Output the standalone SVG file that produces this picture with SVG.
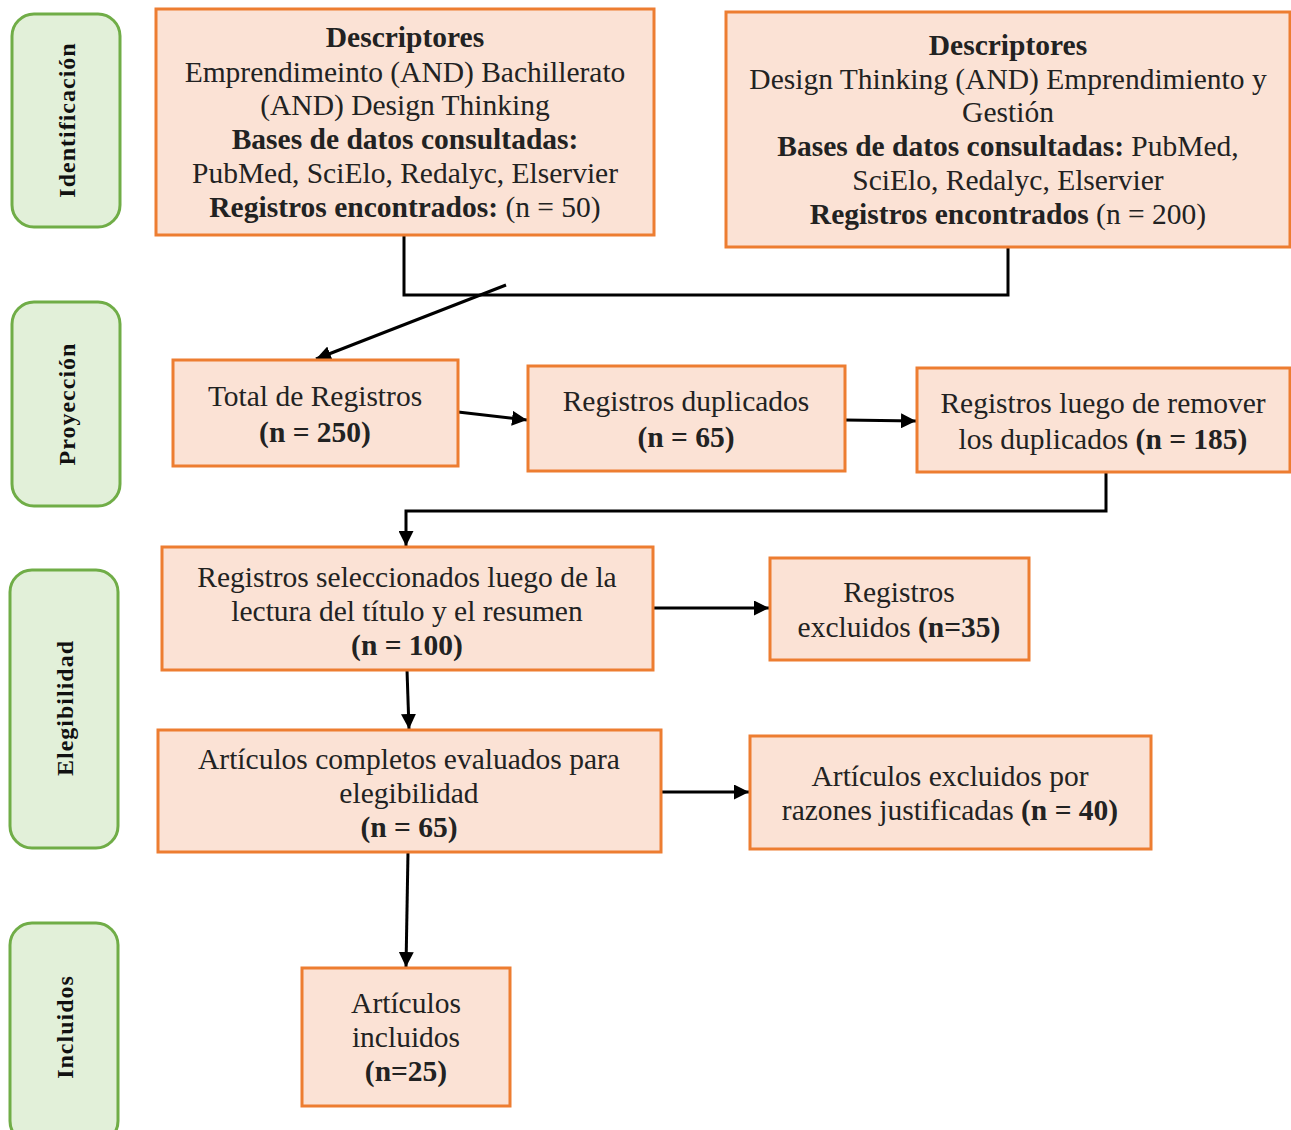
<svg xmlns="http://www.w3.org/2000/svg" width="1291" height="1130" viewBox="0 0 1291 1130">
<defs>
<marker id="ah" viewBox="0 0 10 10" refX="10" refY="5" markerWidth="5" markerHeight="5" orient="auto" markerUnits="strokeWidth">
<path d="M0,0 L10,5 L0,10 z" fill="#000"/>
</marker>
<style>
.stage rect{fill:#E2F0D9;stroke:#70AD47;stroke-width:3}
.stage text{font-family:"Liberation Serif",serif;font-weight:bold;font-size:24px;letter-spacing:1px;fill:#111;text-anchor:middle}
.box rect{fill:#FBE2D5;stroke:#ED7D31;stroke-width:3}
.box text{font-family:"Liberation Serif",serif;font-size:29.5px;fill:#222;text-anchor:middle}
.b{font-weight:bold}
.conn{fill:none;stroke:#000;stroke-width:3}
</style>
</defs>
<rect width="1291" height="1130" fill="#fff"/>

<g id="stage-identificacion" class="stage">
<rect x="12" y="14" width="108" height="213" rx="22"/>
<text transform="translate(75,120) rotate(-90)">Identificación</text>
</g>
<g id="stage-proyeccion" class="stage">
<rect x="12" y="302" width="108" height="204" rx="22"/>
<text transform="translate(75,404) rotate(-90)">Proyección</text>
</g>
<g id="stage-elegibilidad" class="stage">
<rect x="10" y="570" width="108" height="278" rx="22"/>
<text transform="translate(73,708) rotate(-90)">Elegibilidad</text>
</g>
<g id="stage-incluidos" class="stage">
<rect x="10" y="923" width="108" height="220" rx="22"/>
<text transform="translate(73,1027) rotate(-90)">Incluidos</text>
</g>

<g id="connectors">
<polyline class="conn" points="404,235 404,295 1008,295 1008,247"/>
<line class="conn" x1="506" y1="285" x2="316" y2="359" marker-end="url(#ah)"/>
<line class="conn" x1="458" y1="412" x2="527" y2="420" marker-end="url(#ah)"/>
<line class="conn" x1="845" y1="420" x2="916" y2="421" marker-end="url(#ah)"/>
<polyline class="conn" points="1106,472 1106,511 406,511 406,546" marker-end="url(#ah)"/>
<line class="conn" x1="653" y1="608" x2="769" y2="608" marker-end="url(#ah)"/>
<line class="conn" x1="407" y1="670" x2="409" y2="729" marker-end="url(#ah)"/>
<line class="conn" x1="661" y1="792" x2="749" y2="792" marker-end="url(#ah)"/>
<line class="conn" x1="408" y1="852" x2="406" y2="967" marker-end="url(#ah)"/>
</g>

<g id="desc1" class="box">
<rect x="156" y="9" width="498" height="226"/>
<text x="405" y="47" class="b">Descriptores</text>
<text x="405" y="82">Emprendimeinto (AND) Bachillerato</text>
<text x="405" y="115">(AND) Design Thinking</text>
<text x="405" y="149" class="b">Bases de datos consultadas:</text>
<text x="405" y="183">PubMed, SciElo, Redalyc, Elservier</text>
<text x="405" y="217"><tspan class="b">Registros encontrados:</tspan> (n = 50)</text>
</g>

<g id="desc2" class="box">
<rect x="726" y="12" width="564" height="235"/>
<text x="1008" y="55" class="b">Descriptores</text>
<text x="1008" y="89">Design Thinking (AND) Emprendimiento y</text>
<text x="1008" y="122">Gestión</text>
<text x="1008" y="156"><tspan class="b">Bases de datos consultadas:</tspan> PubMed,</text>
<text x="1008" y="190">SciElo, Redalyc, Elservier</text>
<text x="1008" y="224"><tspan class="b">Registros encontrados</tspan> (n = 200)</text>
</g>

<g id="total" class="box">
<rect x="173" y="360" width="285" height="106"/>
<text x="315" y="406">Total de Registros</text>
<text x="315" y="442" class="b">(n = 250)</text>
</g>

<g id="duplicados" class="box">
<rect x="528" y="366" width="317" height="105"/>
<text x="686" y="411">Registros duplicados</text>
<text x="686" y="447" class="b">(n = 65)</text>
</g>

<g id="luego" class="box">
<rect x="917" y="368" width="373" height="104"/>
<text x="1103" y="413">Registros luego de remover</text>
<text x="1103" y="449">los duplicados <tspan class="b">(n = 185)</tspan></text>
</g>

<g id="seleccionados" class="box">
<rect x="162" y="547" width="491" height="123"/>
<text x="407" y="587">Registros seleccionados luego de la</text>
<text x="407" y="621">lectura del título y el resumen</text>
<text x="407" y="655" class="b">(n = 100)</text>
</g>

<g id="excluidos35" class="box">
<rect x="770" y="558" width="259" height="102"/>
<text x="899" y="602">Registros</text>
<text x="899" y="637">excluidos <tspan class="b">(n=35)</tspan></text>
</g>

<g id="completos" class="box">
<rect x="158" y="730" width="503" height="122"/>
<text x="409" y="769">Artículos completos evaluados para</text>
<text x="409" y="803">elegibilidad</text>
<text x="409" y="837" class="b">(n = 65)</text>
</g>

<g id="excluidos40" class="box">
<rect x="750" y="736" width="401" height="113"/>
<text x="950" y="786">Artículos excluidos por</text>
<text x="950" y="820">razones justificadas <tspan class="b">(n = 40)</tspan></text>
</g>

<g id="incluidos" class="box">
<rect x="302" y="968" width="208" height="138"/>
<text x="406" y="1013">Artículos</text>
<text x="406" y="1047">incluidos</text>
<text x="406" y="1081" class="b">(n=25)</text>
</g>
</svg>
